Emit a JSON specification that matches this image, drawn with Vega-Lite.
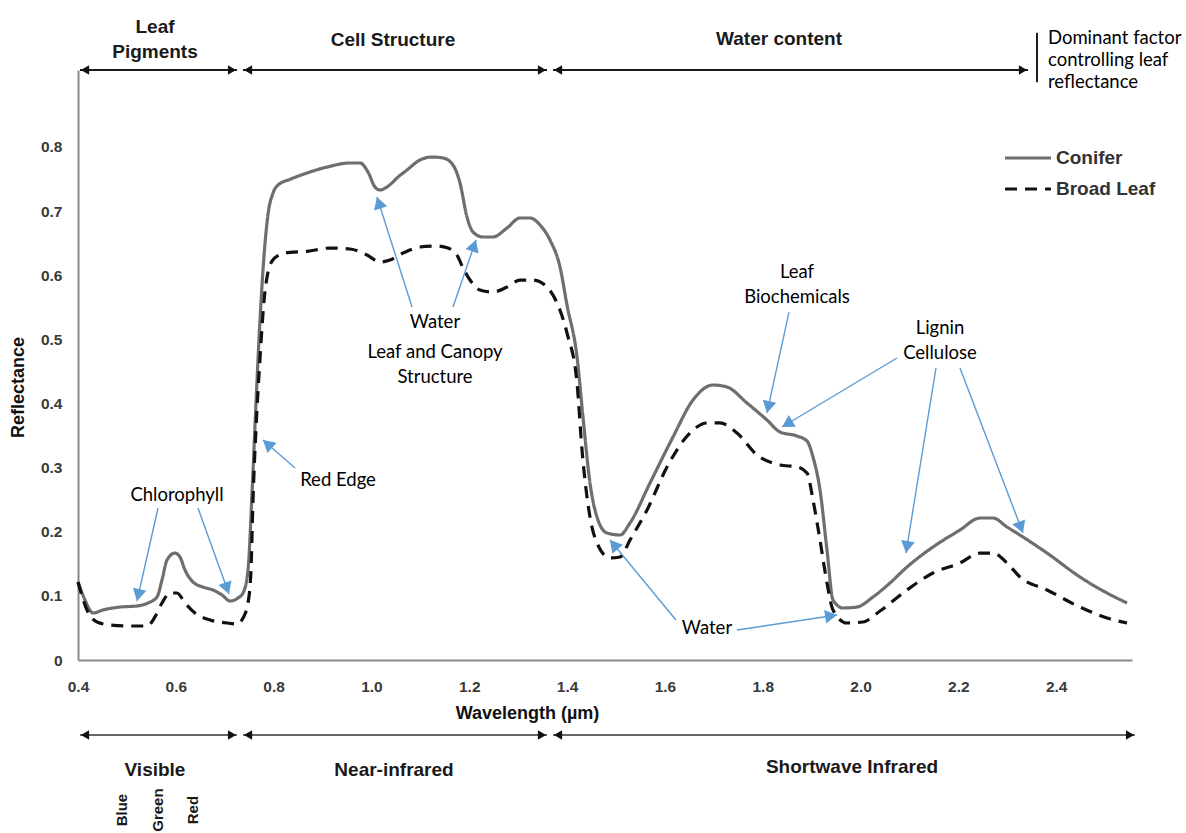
{
  "$schema": "https://vega.github.io/schema/vega-lite/v6.json",
  "width": 1054,
  "height": 590,
  "autosize": {"type": "none"},
  "padding": {"left": 78, "top": 70, "right": 54, "bottom": 173},
  "background": "white",
  "config": {
    "view": {"stroke": null},
    "axis": {
      "grid": false,
      "ticks": false,
      "labelFlush": false,
      "domainColor": "#8a8a8a",
      "domainWidth": 2,
      "labelFont": "Liberation Sans",
      "labelFontWeight": "bold",
      "labelFontSize": 15.5,
      "labelColor": "#3a3a3a",
      "titleFont": "Liberation Sans",
      "titleFontWeight": "bold",
      "titleFontSize": 18,
      "titleColor": "#111111"
    }
  },
  "datasets": {
    "spectra": [
      {"series": "Conifer", "wl": 0.4, "r": 0.1216},
      {"series": "Conifer", "wl": 0.4143, "r": 0.0936},
      {"series": "Conifer", "wl": 0.4307, "r": 0.0733},
      {"series": "Conifer", "wl": 0.4511, "r": 0.078},
      {"series": "Conifer", "wl": 0.4859, "r": 0.0826},
      {"series": "Conifer", "wl": 0.5206, "r": 0.0842},
      {"series": "Conifer", "wl": 0.5431, "r": 0.0889},
      {"series": "Conifer", "wl": 0.5615, "r": 0.0982},
      {"series": "Conifer", "wl": 0.5717, "r": 0.1247},
      {"series": "Conifer", "wl": 0.582, "r": 0.1559},
      {"series": "Conifer", "wl": 0.5983, "r": 0.1668},
      {"series": "Conifer", "wl": 0.6085, "r": 0.1606},
      {"series": "Conifer", "wl": 0.6188, "r": 0.1403},
      {"series": "Conifer", "wl": 0.6351, "r": 0.1216},
      {"series": "Conifer", "wl": 0.6556, "r": 0.1138},
      {"series": "Conifer", "wl": 0.676, "r": 0.1092},
      {"series": "Conifer", "wl": 0.6944, "r": 0.1014},
      {"series": "Conifer", "wl": 0.7108, "r": 0.092},
      {"series": "Conifer", "wl": 0.7271, "r": 0.0967},
      {"series": "Conifer", "wl": 0.7374, "r": 0.1045},
      {"series": "Conifer", "wl": 0.7476, "r": 0.1403},
      {"series": "Conifer", "wl": 0.7558, "r": 0.26},
      {"series": "Conifer", "wl": 0.7639, "r": 0.4},
      {"series": "Conifer", "wl": 0.7721, "r": 0.53},
      {"series": "Conifer", "wl": 0.7803, "r": 0.63},
      {"series": "Conifer", "wl": 0.7885, "r": 0.695},
      {"series": "Conifer", "wl": 0.7987, "r": 0.728},
      {"series": "Conifer", "wl": 0.8089, "r": 0.7406},
      {"series": "Conifer", "wl": 0.8335, "r": 0.7495},
      {"series": "Conifer", "wl": 0.8682, "r": 0.7594},
      {"series": "Conifer", "wl": 0.9091, "r": 0.7687},
      {"series": "Conifer", "wl": 0.9561, "r": 0.775},
      {"series": "Conifer", "wl": 0.9766, "r": 0.775},
      {"series": "Conifer", "wl": 0.9929, "r": 0.761},
      {"series": "Conifer", "wl": 1.0072, "r": 0.7376},
      {"series": "Conifer", "wl": 1.0175, "r": 0.7329},
      {"series": "Conifer", "wl": 1.0318, "r": 0.7376},
      {"series": "Conifer", "wl": 1.044, "r": 0.7454},
      {"series": "Conifer", "wl": 1.0522, "r": 0.7516},
      {"series": "Conifer", "wl": 1.0727, "r": 0.7641},
      {"series": "Conifer", "wl": 1.0992, "r": 0.7797},
      {"series": "Conifer", "wl": 1.1238, "r": 0.7843},
      {"series": "Conifer", "wl": 1.1463, "r": 0.7828},
      {"series": "Conifer", "wl": 1.1667, "r": 0.7719},
      {"series": "Conifer", "wl": 1.181, "r": 0.7438},
      {"series": "Conifer", "wl": 1.1953, "r": 0.6908},
      {"series": "Conifer", "wl": 1.2076, "r": 0.6674},
      {"series": "Conifer", "wl": 1.228, "r": 0.6596},
      {"series": "Conifer", "wl": 1.2485, "r": 0.6596},
      {"series": "Conifer", "wl": 1.2771, "r": 0.6736},
      {"series": "Conifer", "wl": 1.3037, "r": 0.6892},
      {"series": "Conifer", "wl": 1.3242, "r": 0.6892},
      {"series": "Conifer", "wl": 1.3446, "r": 0.6783},
      {"series": "Conifer", "wl": 1.365, "r": 0.6549},
      {"series": "Conifer", "wl": 1.3855, "r": 0.6128},
      {"series": "Conifer", "wl": 1.3998, "r": 0.5536},
      {"series": "Conifer", "wl": 1.4203, "r": 0.4725},
      {"series": "Conifer", "wl": 1.4325, "r": 0.3789},
      {"series": "Conifer", "wl": 1.4468, "r": 0.276},
      {"series": "Conifer", "wl": 1.4611, "r": 0.223},
      {"series": "Conifer", "wl": 1.4816, "r": 0.198},
      {"series": "Conifer", "wl": 1.5082, "r": 0.1949},
      {"series": "Conifer", "wl": 1.5286, "r": 0.2136},
      {"series": "Conifer", "wl": 1.5695, "r": 0.276},
      {"series": "Conifer", "wl": 1.6165, "r": 0.3477},
      {"series": "Conifer", "wl": 1.6574, "r": 0.4054},
      {"series": "Conifer", "wl": 1.6983, "r": 0.4288},
      {"series": "Conifer", "wl": 1.7269, "r": 0.4257},
      {"series": "Conifer", "wl": 1.7678, "r": 0.4007},
      {"series": "Conifer", "wl": 1.8087, "r": 0.3742},
      {"series": "Conifer", "wl": 1.8353, "r": 0.3555},
      {"series": "Conifer", "wl": 1.8701, "r": 0.3493},
      {"series": "Conifer", "wl": 1.8905, "r": 0.3415},
      {"series": "Conifer", "wl": 1.9028, "r": 0.3165},
      {"series": "Conifer", "wl": 1.9171, "r": 0.2651},
      {"series": "Conifer", "wl": 1.9314, "r": 0.1715},
      {"series": "Conifer", "wl": 1.9437, "r": 0.0936},
      {"series": "Conifer", "wl": 1.9641, "r": 0.0811},
      {"series": "Conifer", "wl": 1.9927, "r": 0.0826},
      {"series": "Conifer", "wl": 2.0254, "r": 0.0982},
      {"series": "Conifer", "wl": 2.0602, "r": 0.1201},
      {"series": "Conifer", "wl": 2.0949, "r": 0.145},
      {"series": "Conifer", "wl": 2.1481, "r": 0.1762},
      {"series": "Conifer", "wl": 2.2033, "r": 0.2027},
      {"series": "Conifer", "wl": 2.2442, "r": 0.2214},
      {"series": "Conifer", "wl": 2.2708, "r": 0.2214},
      {"series": "Conifer", "wl": 2.2994, "r": 0.2074},
      {"series": "Conifer", "wl": 2.3321, "r": 0.1918},
      {"series": "Conifer", "wl": 2.3812, "r": 0.1668},
      {"series": "Conifer", "wl": 2.4487, "r": 0.1294},
      {"series": "Conifer", "wl": 2.5039, "r": 0.1045},
      {"series": "Conifer", "wl": 2.5448, "r": 0.0889},
      {"series": "Broad Leaf", "wl": 0.4, "r": 0.1216},
      {"series": "Broad Leaf", "wl": 0.4184, "r": 0.078},
      {"series": "Broad Leaf", "wl": 0.4388, "r": 0.0593},
      {"series": "Broad Leaf", "wl": 0.4654, "r": 0.0546},
      {"series": "Broad Leaf", "wl": 0.5063, "r": 0.053},
      {"series": "Broad Leaf", "wl": 0.5411, "r": 0.053},
      {"series": "Broad Leaf", "wl": 0.5574, "r": 0.0671},
      {"series": "Broad Leaf", "wl": 0.5717, "r": 0.0889},
      {"series": "Broad Leaf", "wl": 0.5881, "r": 0.1045},
      {"series": "Broad Leaf", "wl": 0.6024, "r": 0.1045},
      {"series": "Broad Leaf", "wl": 0.6188, "r": 0.0889},
      {"series": "Broad Leaf", "wl": 0.6392, "r": 0.0733},
      {"series": "Broad Leaf", "wl": 0.6699, "r": 0.0624},
      {"series": "Broad Leaf", "wl": 0.7046, "r": 0.0577},
      {"series": "Broad Leaf", "wl": 0.7251, "r": 0.0561},
      {"series": "Broad Leaf", "wl": 0.7374, "r": 0.0655},
      {"series": "Broad Leaf", "wl": 0.7476, "r": 0.0889},
      {"series": "Broad Leaf", "wl": 0.7537, "r": 0.1403},
      {"series": "Broad Leaf", "wl": 0.7578, "r": 0.25},
      {"series": "Broad Leaf", "wl": 0.7639, "r": 0.36},
      {"series": "Broad Leaf", "wl": 0.7721, "r": 0.47},
      {"series": "Broad Leaf", "wl": 0.7803, "r": 0.56},
      {"series": "Broad Leaf", "wl": 0.7885, "r": 0.605},
      {"series": "Broad Leaf", "wl": 0.7967, "r": 0.622},
      {"series": "Broad Leaf", "wl": 0.8089, "r": 0.6304},
      {"series": "Broad Leaf", "wl": 0.8335, "r": 0.6357},
      {"series": "Broad Leaf", "wl": 0.8682, "r": 0.6372},
      {"series": "Broad Leaf", "wl": 0.9152, "r": 0.6424},
      {"series": "Broad Leaf", "wl": 0.9561, "r": 0.6409},
      {"series": "Broad Leaf", "wl": 0.9909, "r": 0.6315},
      {"series": "Broad Leaf", "wl": 1.0175, "r": 0.6206},
      {"series": "Broad Leaf", "wl": 1.0379, "r": 0.6237},
      {"series": "Broad Leaf", "wl": 1.0645, "r": 0.6346},
      {"series": "Broad Leaf", "wl": 1.0992, "r": 0.644},
      {"series": "Broad Leaf", "wl": 1.134, "r": 0.6456},
      {"series": "Broad Leaf", "wl": 1.1565, "r": 0.6424},
      {"series": "Broad Leaf", "wl": 1.1749, "r": 0.6315},
      {"series": "Broad Leaf", "wl": 1.1872, "r": 0.6113},
      {"series": "Broad Leaf", "wl": 1.2015, "r": 0.5925},
      {"series": "Broad Leaf", "wl": 1.2219, "r": 0.577},
      {"series": "Broad Leaf", "wl": 1.2485, "r": 0.5738},
      {"series": "Broad Leaf", "wl": 1.2771, "r": 0.5816},
      {"series": "Broad Leaf", "wl": 1.3037, "r": 0.5925},
      {"series": "Broad Leaf", "wl": 1.3303, "r": 0.5925},
      {"series": "Broad Leaf", "wl": 1.3589, "r": 0.5816},
      {"series": "Broad Leaf", "wl": 1.3794, "r": 0.5567},
      {"series": "Broad Leaf", "wl": 1.3998, "r": 0.5099},
      {"series": "Broad Leaf", "wl": 1.4203, "r": 0.4319},
      {"series": "Broad Leaf", "wl": 1.4305, "r": 0.3275},
      {"series": "Broad Leaf", "wl": 1.4468, "r": 0.223},
      {"series": "Broad Leaf", "wl": 1.4611, "r": 0.1824},
      {"series": "Broad Leaf", "wl": 1.4877, "r": 0.1591},
      {"series": "Broad Leaf", "wl": 1.5082, "r": 0.1606},
      {"series": "Broad Leaf", "wl": 1.5286, "r": 0.1871},
      {"series": "Broad Leaf", "wl": 1.5634, "r": 0.2339},
      {"series": "Broad Leaf", "wl": 1.6043, "r": 0.301},
      {"series": "Broad Leaf", "wl": 1.6513, "r": 0.354},
      {"series": "Broad Leaf", "wl": 1.686, "r": 0.3696},
      {"series": "Broad Leaf", "wl": 1.7126, "r": 0.3696},
      {"series": "Broad Leaf", "wl": 1.7474, "r": 0.354},
      {"series": "Broad Leaf", "wl": 1.7883, "r": 0.3197},
      {"series": "Broad Leaf", "wl": 1.8353, "r": 0.3041},
      {"series": "Broad Leaf", "wl": 1.8701, "r": 0.301},
      {"series": "Broad Leaf", "wl": 1.8905, "r": 0.2916},
      {"series": "Broad Leaf", "wl": 1.9028, "r": 0.2495},
      {"series": "Broad Leaf", "wl": 1.9171, "r": 0.1871},
      {"series": "Broad Leaf", "wl": 1.9314, "r": 0.1201},
      {"series": "Broad Leaf", "wl": 1.9437, "r": 0.078},
      {"series": "Broad Leaf", "wl": 1.9723, "r": 0.0577},
      {"series": "Broad Leaf", "wl": 2.005, "r": 0.0593},
      {"series": "Broad Leaf", "wl": 2.0398, "r": 0.0764},
      {"series": "Broad Leaf", "wl": 2.0949, "r": 0.1092},
      {"series": "Broad Leaf", "wl": 2.1481, "r": 0.1357},
      {"series": "Broad Leaf", "wl": 2.2033, "r": 0.1513},
      {"series": "Broad Leaf", "wl": 2.2442, "r": 0.1668},
      {"series": "Broad Leaf", "wl": 2.2708, "r": 0.1668},
      {"series": "Broad Leaf", "wl": 2.2994, "r": 0.1513},
      {"series": "Broad Leaf", "wl": 2.326, "r": 0.1294},
      {"series": "Broad Leaf", "wl": 2.3812, "r": 0.1092},
      {"series": "Broad Leaf", "wl": 2.4487, "r": 0.0826},
      {"series": "Broad Leaf", "wl": 2.5039, "r": 0.0655},
      {"series": "Broad Leaf", "wl": 2.5448, "r": 0.0577}
    ],
    "spans": [
      {"row": "top", "wl": 0.4041, "wl2": 0.725, "r": 0.92},
      {"row": "top", "wl": 0.7374, "wl2": 1.3589, "r": 0.92},
      {"row": "top", "wl": 1.3712, "wl2": 2.3424, "r": 0.92},
      {"row": "bottom", "wl": 0.4041, "wl2": 0.725, "r": -0.117},
      {"row": "bottom", "wl": 0.7374, "wl2": 1.3589, "r": -0.117},
      {"row": "bottom", "wl": 1.3712, "wl2": 2.561, "r": -0.117}
    ],
    "heads": [
      {"dir": "left", "wl": 0.4143, "r": 0.92},
      {"dir": "right", "wl": 0.7149, "r": 0.92},
      {"dir": "left", "wl": 0.7476, "r": 0.92},
      {"dir": "right", "wl": 1.3487, "r": 0.92},
      {"dir": "left", "wl": 1.3814, "r": 0.92},
      {"dir": "right", "wl": 2.3321, "r": 0.92},
      {"dir": "left", "wl": 0.4143, "r": -0.117},
      {"dir": "right", "wl": 0.7149, "r": -0.117},
      {"dir": "left", "wl": 0.7476, "r": -0.117},
      {"dir": "right", "wl": 1.3487, "r": -0.117},
      {"dir": "left", "wl": 1.3814, "r": -0.117},
      {"dir": "right", "wl": 2.551, "r": -0.117}
    ],
    "bar": [
      {"wl": 2.3607, "r": 0.978, "r2": 0.901}
    ],
    "callouts": [
      {"wl": 0.5636, "r": 0.237, "wl2": 0.5206, "r2": 0.092},
      {"wl": 0.6453, "r": 0.237, "wl2": 0.7087, "r2": 0.1029},
      {"wl": 0.8437, "r": 0.2994, "wl2": 0.7782, "r2": 0.343},
      {"wl": 1.0829, "r": 0.5504, "wl2": 1.0113, "r2": 0.722},
      {"wl": 1.1667, "r": 0.5504, "wl2": 1.2137, "r2": 0.6549},
      {"wl": 1.8537, "r": 0.5426, "wl2": 1.8087, "r2": 0.3852},
      {"wl": 2.0745, "r": 0.4709, "wl2": 1.8394, "r2": 0.3633},
      {"wl": 2.1542, "r": 0.4553, "wl2": 2.0929, "r2": 0.1668},
      {"wl": 2.2033, "r": 0.4553, "wl2": 2.3321, "r2": 0.198},
      {"wl": 1.6226, "r": 0.0624, "wl2": 1.4877, "r2": 0.1871},
      {"wl": 1.7474, "r": 0.0468, "wl2": 1.9518, "r2": 0.0702}
    ],
    "headings": [
      {"label": "Leaf", "wl": 0.5574, "r": 0.987},
      {"label": "Pigments", "wl": 0.5574, "r": 0.948},
      {"label": "Cell Structure", "wl": 1.044, "r": 0.9668},
      {"label": "Water content", "wl": 1.8333, "r": 0.9683},
      {"label": "Visible", "wl": 0.5574, "r": -0.1715},
      {"label": "Near-infrared", "wl": 1.0461, "r": -0.1715},
      {"label": "Shortwave Infrared", "wl": 1.9825, "r": -0.1668}
    ],
    "colours": [
      {"label": "Blue", "wl": 0.49, "r": -0.234},
      {"label": "Green", "wl": 0.5636, "r": -0.234},
      {"label": "Red", "wl": 0.6351, "r": -0.234}
    ],
    "notes": [
      {"label": "Chlorophyll", "wl": 0.6024, "r": 0.2573},
      {"label": "Red Edge", "wl": 0.9316, "r": 0.2807},
      {"label": "Water", "wl": 1.1299, "r": 0.527},
      {"label": "Leaf and Canopy", "wl": 1.1299, "r": 0.4803},
      {"label": "Structure", "wl": 1.1299, "r": 0.4413},
      {"label": "Leaf", "wl": 1.87, "r": 0.605},
      {"label": "Biochemicals", "wl": 1.87, "r": 0.566},
      {"label": "Lignin", "wl": 2.1624, "r": 0.5177},
      {"label": "Cellulose", "wl": 2.1624, "r": 0.4787},
      {"label": "Water", "wl": 1.686, "r": 0.0499}
    ],
    "factor": [
      {"label": "Dominant factor", "wl": 2.3832, "r": 0.97},
      {"label": "controlling leaf", "wl": 2.3832, "r": 0.9356},
      {"label": "reflectance", "wl": 2.3832, "r": 0.9013}
    ]
  },
  "encoding": {
    "x": {
      "field": "wl",
      "type": "quantitative",
      "scale": {"domain": [0.4, 2.555], "nice": false, "zero": false},
      "axis": {
        "title": "Wavelength (µm)",
        "values": [0.4, 0.6, 0.8, 1.0, 1.2, 1.4, 1.6, 1.8, 2.0, 2.2, 2.4],
        "format": ".1f",
        "labelPadding": 19,
        "titleX": 449,
        "titleY": 53,
        "titleAlign": "center",
        "titleBaseline": "middle"
      }
    },
    "y": {
      "field": "r",
      "type": "quantitative",
      "scale": {"domain": [0, 0.92], "nice": false, "zero": false},
      "axis": {
        "title": "Reflectance",
        "values": [0, 0.1, 0.2, 0.3, 0.4, 0.5, 0.6, 0.7, 0.8],
        "labelExpr": "datum.value == 0 ? '0' : format(datum.value, '.1f')",
        "labelPadding": 16,
        "titleX": -60,
        "titleY": 317,
        "titleAngle": 270,
        "titleAlign": "center",
        "titleBaseline": "middle"
      }
    }
  },
  "layer": [
    {
      "data": {"name": "spectra"},
      "mark": {"type": "line", "interpolate": "monotone", "strokeWidth": 3.2},
      "encoding": {
        "color": {
          "field": "series",
          "type": "nominal",
          "scale": {"domain": ["Conifer", "Broad Leaf"], "range": ["#6e6e6e", "#111111"]},
          "legend": {
            "title": null,
            "orient": "none",
            "legendX": 925,
            "legendY": 78,
            "symbolType": "stroke",
            "symbolSize": 2116,
            "symbolStrokeWidth": 3.2,
            "clipHeight": 20,
            "rowPadding": 11,
            "labelFont": "Liberation Sans",
            "labelFontSize": 19,
            "labelFontWeight": "bold",
            "labelColor": "#333333",
            "labelOffset": 3
          }
        },
        "strokeDash": {
          "field": "series",
          "type": "nominal",
          "scale": {"domain": ["Conifer", "Broad Leaf"], "range": [[1, 0], [12, 8]]},
          "legend": {
            "title": null,
            "orient": "none",
            "legendX": 925,
            "legendY": 78,
            "symbolType": "stroke",
            "symbolSize": 2116,
            "symbolStrokeWidth": 3.2,
            "clipHeight": 20,
            "rowPadding": 11,
            "labelFont": "Liberation Sans",
            "labelFontSize": 19,
            "labelFontWeight": "bold",
            "labelColor": "#333333",
            "labelOffset": 3
          }
        }
      }
    },
    {
      "data": {"name": "spans"},
      "transform": [{"filter": "datum.row == 'top'"}],
      "mark": {"type": "rule", "color": "#1a1a1a", "strokeWidth": 2},
      "encoding": {"x2": {"field": "wl2"}}
    },
    {
      "data": {"name": "spans"},
      "transform": [{"filter": "datum.row == 'bottom'"}],
      "mark": {"type": "rule", "color": "#666666", "strokeWidth": 2},
      "encoding": {"x2": {"field": "wl2"}}
    },
    {
      "data": {"name": "heads"},
      "mark": {"type": "point", "filled": true, "size": 90, "color": "#111111", "opacity": 1},
      "encoding": {
        "shape": {
          "field": "dir",
          "type": "nominal",
          "scale": {"domain": ["left", "right"], "range": ["triangle-left", "triangle-right"]},
          "legend": null
        }
      }
    },
    {
      "data": {"name": "bar"},
      "mark": {"type": "rule", "color": "#1a1a1a", "strokeWidth": 2},
      "encoding": {"y2": {"field": "r2"}}
    },
    {
      "data": {"name": "callouts"},
      "mark": {"type": "rule", "color": "#5b9bd5", "strokeWidth": 1.4},
      "encoding": {"x2": {"field": "wl2"}, "y2": {"field": "r2"}}
    },
    {
      "data": {"name": "callouts"},
      "transform": [
        {"calculate": "(datum.wl2 - datum.wl) * 489.1", "as": "dx"},
        {"calculate": "(datum.r2 - datum.r) * 641.3", "as": "dy"},
        {"calculate": "sqrt(datum.dx * datum.dx + datum.dy * datum.dy)", "as": "len"},
        {"calculate": "atan2(datum.dx, datum.dy) * 180 / PI", "as": "ang"},
        {"calculate": "datum.wl2 - datum.dx / datum.len * 6 / 489.1", "as": "hx"},
        {"calculate": "datum.r2 - datum.dy / datum.len * 6 / 641.3", "as": "hy"},
        {"calculate": "datum.hx", "as": "wl"},
        {"calculate": "datum.hy", "as": "r"}
      ],
      "mark": {"type": "point", "shape": "triangle-up", "filled": true, "size": 190, "color": "#5b9bd5", "opacity": 1},
      "encoding": {"angle": {"field": "ang", "type": "quantitative", "scale": null}}
    },
    {
      "data": {"name": "headings"},
      "mark": {"type": "text", "font": "Liberation Sans", "fontWeight": "bold", "fontSize": 19, "color": "#1a1a1a", "align": "center", "baseline": "middle"},
      "encoding": {"text": {"field": "label"}}
    },
    {
      "data": {"name": "colours"},
      "mark": {"type": "text", "font": "Liberation Sans", "fontWeight": "bold", "fontSize": 15, "color": "#1a1a1a", "align": "center", "baseline": "middle", "angle": 270},
      "encoding": {"text": {"field": "label"}}
    },
    {
      "data": {"name": "notes"},
      "mark": {"type": "text", "font": "Lato", "fontSize": 18.5, "color": "#000000", "align": "center", "baseline": "middle"},
      "encoding": {"text": {"field": "label"}}
    },
    {
      "data": {"name": "factor"},
      "mark": {"type": "text", "font": "Lato", "fontSize": 18.5, "color": "#000000", "align": "left", "baseline": "middle"},
      "encoding": {"text": {"field": "label"}}
    }
  ]
}
